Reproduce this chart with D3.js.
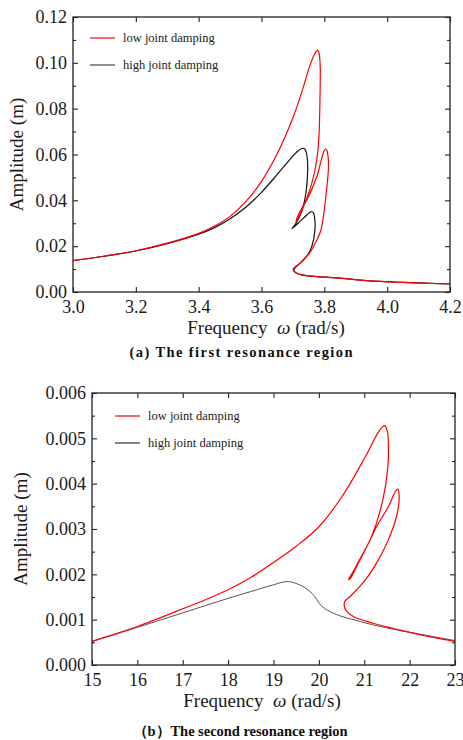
<!DOCTYPE html>
<html>
<head>
<meta charset="utf-8">
<script src="https://cdn.jsdelivr.net/npm/d3@7"></script>
<style>
  body { margin: 0; background: #fff; }
  svg { display: block; font-family: "Liberation Serif", "Times New Roman", serif; }
</style>
</head>
<body>
<svg id="chart" width="463" height="740"></svg>
<script>
// (a) first resonance region
var topFreqLow = [3.00, 3.10, 3.20, 3.30, 3.40, 3.45, 3.50, 3.55, 3.60, 3.65, 3.70, 3.73, 3.752, 3.766, 3.774, 3.7785, 3.782, 3.785, 3.787, 3.787, 3.786, 3.783, 3.776, 3.760, 3.738, 3.717, 3.710, 3.722, 3.744, 3.776, 3.791, 3.798, 3.803, 3.808, 3.812, 3.813, 3.807, 3.797, 3.788, 3.776, 3.754, 3.733, 3.717, 3.703, 3.708, 3.725, 3.760, 3.840, 3.935, 4.050, 4.200];
var topAmpLow  = [0.0137, 0.0157, 0.0180, 0.0213, 0.0256, 0.0287, 0.0330, 0.0394, 0.0483, 0.0603, 0.0760, 0.0880, 0.0980, 0.1030, 0.1050, 0.1054, 0.1048, 0.1025, 0.0980, 0.0920, 0.0830, 0.0685, 0.0576, 0.0474, 0.0387, 0.0322, 0.0307, 0.0350, 0.0401, 0.0503, 0.0580, 0.0612, 0.0624, 0.0618, 0.0590, 0.0540, 0.0445, 0.0329, 0.0265, 0.0227, 0.0172, 0.0140, 0.0118, 0.0097, 0.0085, 0.0076, 0.0069, 0.0062, 0.0050, 0.0042, 0.0035];
var topFreqHigh = [3.00, 3.10, 3.20, 3.30, 3.40, 3.45, 3.50, 3.55, 3.60, 3.65, 3.69, 3.715, 3.728, 3.736, 3.742, 3.746, 3.747, 3.743, 3.735, 3.720, 3.705, 3.697, 3.722, 3.744, 3.757, 3.765, 3.769, 3.770, 3.760, 3.746, 3.722, 3.701, 3.708, 3.725, 3.760, 3.840, 3.935, 4.050, 4.200];
var topAmpHigh  = [0.0137, 0.0156, 0.0179, 0.0211, 0.0252, 0.0281, 0.0320, 0.0370, 0.0435, 0.0513, 0.0578, 0.0614, 0.0626, 0.0626, 0.0612, 0.0580, 0.0530, 0.0450, 0.0385, 0.0325, 0.0290, 0.0276, 0.0307, 0.0336, 0.0350, 0.0346, 0.0325, 0.0271, 0.0198, 0.0160, 0.0125, 0.0099, 0.0085, 0.0076, 0.0069, 0.0062, 0.0050, 0.0042, 0.0035];
var topXTicks = [3.0, 3.2, 3.4, 3.6, 3.8, 4.0, 4.2];
var topYTicks = [0.00, 0.02, 0.04, 0.06, 0.08, 0.10, 0.12];
var topYMinor = [0.01, 0.03, 0.05, 0.07, 0.09, 0.11];

// (b) second resonance region
var botFreqLow = [15, 15.5, 16, 16.5, 17, 17.5, 18, 18.5, 19, 19.5, 20.0, 20.5, 21.0, 21.3, 21.40, 21.457, 21.51, 21.53, 21.52, 21.41, 21.16, 20.91, 20.75, 20.65, 20.70, 20.83, 21.13, 21.27, 21.53, 21.70, 21.74, 21.77, 21.71, 21.53, 21.35, 21.05, 20.69, 20.57, 20.56, 20.60, 20.76, 21.20, 21.79, 22.41, 23];
var botAmpLow  = [0.00052, 0.00068, 0.00085, 0.00104, 0.00124, 0.00144, 0.00166, 0.00193, 0.00226, 0.00262, 0.00305, 0.00370, 0.00455, 0.00512, 0.00525, 0.00528, 0.00515, 0.00495, 0.00437, 0.00364, 0.00283, 0.00235, 0.00205, 0.00188, 0.00192, 0.00217, 0.00276, 0.00305, 0.00349, 0.00385, 0.00388, 0.00371, 0.00327, 0.00276, 0.00239, 0.00191, 0.00151, 0.00140, 0.00130, 0.00120, 0.00107, 0.00092, 0.00077, 0.00063, 0.00052];
var botFreqHigh = [15, 16, 17, 18, 18.5, 19.0, 19.3, 19.5, 19.7, 19.85, 19.95, 20.05, 20.2, 20.45, 20.8, 21.3, 22.0, 22.5, 23];
var botAmpHigh  = [0.00052, 0.00083, 0.00115, 0.00147, 0.00162, 0.00177, 0.00184, 0.00180, 0.00170, 0.00158, 0.00145, 0.00131, 0.00120, 0.00109, 0.00099, 0.00086, 0.00072, 0.00063, 0.00054];
var botXTicks = [15, 16, 17, 18, 19, 20, 21, 22, 23];
var botYTicks = [0.000, 0.001, 0.002, 0.003, 0.004, 0.005, 0.006];
var botYMinor = [0.0005, 0.0015, 0.0025, 0.0035, 0.0045, 0.0055];

var seriesNames = ["low joint damping", "high joint damping"];

var svg = d3.select("#chart");

function zip(xs, ys) {
  return xs.map(function (d, i) { return [d, ys[i]]; });
}

function drawPanel(o) {
  var x = d3.scaleLinear().domain(o.xDomain).range([o.left, o.right]);
  var y = d3.scaleLinear().domain(o.yDomain).range([o.bottom, o.top]);
  var g = svg.append("g");

  var line = d3.line()
    .x(function (d) { return x(d[0]); })
    .y(function (d) { return y(d[1]); })
    .curve(d3.curveCatmullRom.alpha(0.5));

  // high damping first, red on top
  g.append("path")
    .datum(zip(o.freqHigh, o.ampHigh))
    .attr("d", line)
    .style("fill", "none")
    .style("stroke", o.highColor)
    .style("stroke-width", o.highWidth);

  g.append("path")
    .datum(zip(o.freqLow, o.ampLow))
    .attr("d", line)
    .style("fill", "none")
    .style("stroke", "#ff0000")
    .style("stroke-width", 1.2);

  // axes, ticks pointing inward on all sides
  var xb = g.append("g")
    .attr("transform", "translate(0," + o.bottom + ")")
    .call(d3.axisBottom(x).tickValues(o.xTicks).tickFormat(o.xFmt).tickSize(-5).tickSizeOuter(0).tickPadding(8));
  var xt = g.append("g")
    .attr("transform", "translate(0," + o.top + ")")
    .call(d3.axisTop(x).tickValues(o.xTicks).tickFormat("").tickSize(-5).tickSizeOuter(0));
  var yl = g.append("g")
    .attr("transform", "translate(" + o.left + ",0)")
    .call(d3.axisLeft(y).tickValues(o.yTicks).tickFormat(o.yFmt).tickSize(-5).tickSizeOuter(0).tickPadding(6));
  var yr = g.append("g")
    .attr("transform", "translate(" + o.right + ",0)")
    .call(d3.axisRight(y).tickValues(o.yTicks).tickFormat("").tickSize(-5).tickSizeOuter(0));
  var ylm = g.append("g")
    .attr("transform", "translate(" + o.left + ",0)")
    .call(d3.axisLeft(y).tickValues(o.yMinor).tickFormat("").tickSize(-3).tickSizeOuter(0));
  var yrm = g.append("g")
    .attr("transform", "translate(" + o.right + ",0)")
    .call(d3.axisRight(y).tickValues(o.yMinor).tickFormat("").tickSize(-3).tickSizeOuter(0));

  [xb, xt, yl, yr, ylm, yrm].forEach(function (a) {
    a.select(".domain").remove();
    a.selectAll("line").attr("stroke", "#222").attr("stroke-width", 1.1);
    a.selectAll("text")
      .style("font-family", "'Liberation Serif', serif")
      .style("font-size", "18px")
      .attr("fill", "#1a1a1a");
  });

  g.append("rect")
    .attr("x", o.left)
    .attr("y", o.top)
    .attr("width", o.right - o.left)
    .attr("height", o.bottom - o.top)
    .style("fill", "none")
    .style("stroke", "#222")
    .style("stroke-width", 1.3);

  // legend
  var legColors = ["#ff0000", o.highLegend];
  seriesNames.forEach(function (name, i) {
    var ly = o.legY[i];
    g.append("line")
      .attr("x1", o.legX).attr("x2", o.legX + 25)
      .attr("y1", ly).attr("y2", ly)
      .style("stroke", legColors[i])
      .style("stroke-width", 1.2);
    g.append("text")
      .attr("x", o.legX + 33)
      .attr("y", ly + 4)
      .style("font-size", "12.5px")
      .attr("fill", "#1a1a1a")
      .text(name);
  });

  // Y label
  g.append("text")
    .attr("text-anchor", "middle")
    .attr("transform", "translate(" + o.yLabelX + "," + ((o.top + o.bottom) / 2) + ")rotate(-90)")
    .style("font-size", "19px")
    .attr("fill", "#1a1a1a")
    .text("Amplitude (m)");

  // X label
  var xl = g.append("text")
    .attr("x", o.xLabelX)
    .attr("y", o.xLabelY)
    .attr("text-anchor", "middle")
    .style("font-size", "19px")
    .attr("fill", "#1a1a1a")
    .attr("xml:space", "preserve");
  xl.append("tspan").text("Frequency  ");
  xl.append("tspan").style("font-style", "italic").text("ω");
  xl.append("tspan").text(" (rad/s)");

  // caption
  svg.append("text")
    .attr("x", o.capX)
    .attr("y", o.capY)
    .attr("text-anchor", "middle")
    .attr("textLength", o.capLen)
    .attr("lengthAdjust", "spacing")
    .style("font-size", "14.5px")
    .style("font-weight", "bold")
    .attr("fill", "#111")
    .text(o.caption);
}

drawPanel({
  left: 73, right: 450, top: 17, bottom: 292,
  xDomain: [3.0, 4.2], yDomain: [0, 0.12],
  xTicks: topXTicks, yTicks: topYTicks, yMinor: topYMinor,
  xFmt: d3.format(".1f"), yFmt: d3.format(".2f"),
  freqLow: topFreqLow, ampLow: topAmpLow,
  freqHigh: topFreqHigh, ampHigh: topAmpHigh,
  highColor: "#111", highWidth: 1.2, highLegend: "#444",
  legX: 90, legY: [38, 65],
  yLabelX: 23, xLabelX: 266, xLabelY: 334,
  capX: 241, capY: 357, capLen: 223,
  caption: "(a) The first resonance region"
});

drawPanel({
  left: 92, right: 455, top: 393, bottom: 665,
  xDomain: [15, 23], yDomain: [0, 0.006],
  xTicks: botXTicks, yTicks: botYTicks, yMinor: botYMinor,
  xFmt: d3.format("d"), yFmt: d3.format(".3f"),
  freqLow: botFreqLow, ampLow: botAmpLow,
  freqHigh: botFreqHigh, ampHigh: botAmpHigh,
  highColor: "#555", highWidth: 1, highLegend: "#333",
  legX: 115, legY: [416, 443],
  yLabelX: 27, xLabelX: 262, xLabelY: 707,
  capX: 240, capY: 736, capLen: 215,
  caption: "（b）The second resonance region"
});
</script>
</body>
</html>
